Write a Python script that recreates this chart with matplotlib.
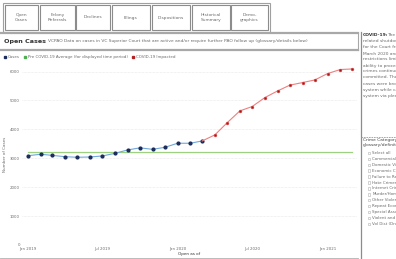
import numpy as np
import pandas as pd
import matplotlib
matplotlib.use("Agg")
import matplotlib.pyplot as plt
from matplotlib.patches import Rectangle

# data
months = pd.date_range("2019-01-01", periods=27, freq="MS")
cases = [3090, 3140, 3100, 3055, 3035, 3045, 3080, 3170, 3290, 3360, 3310, 3380,
         3520, 3520, 3600]
covid = [3810, 4230, 4640, 4790, 5100, 5330, 5530, 5620, 5710, 5930, 6070, 6090]
pre_covid_avg = 3230

tab_labels = ["Open\nCases", "Felony\nReferrals", "Declines", "Filings",
              "Dispositions", "Historical\nSummary", "Demo-\ngraphics"]
tab_edges = [(5, 38), (40, 75), (76, 110), (112, 150), (152, 190), (192, 230), (231, 268)]
tick_idx = [0, 6, 12, 18, 24]
covid_note = ["related shutdown of the Court", "for the Court from mid-",
              "March 2020 and continuing", "restrictions limited the Court's",
              "ability to process cases. As", "crimes continued to be",
              "committed. The number of", "cases were brought into the",
              "system while cases left the", "system via plea agreements"]
crime_cats = ["Select all", "Commercial Crimes", "Domestic Violence",
              "Economic Crimes", "Failure to Register", "Hate Crimes",
              "Internet Crimes", "Murder/Homicide", "Other Violent",
              "Repeat Economic", "Special Assault", "Violent and Serious",
              "Vol Dist (Drunk Driving)"]

grey = "#6b6b6b"
W, H = 396, 259
fig = plt.figure(figsize=(W / 100, H / 100), dpi=100)

# page layer in pixel coordinates
bg = fig.add_axes([0, 0, 1, 1])
bg.set_xlim(0, W)
bg.set_ylim(H, 0)
bg.axis("off")

bg.add_patch(Rectangle((3, 3), 267, 29, fill=False, ec="#a0a0a0", lw=0.8))
for (x0, x1), lab in zip(tab_edges, tab_labels):
    bg.add_patch(Rectangle((x0, 5), x1 - x0, 25, fill=False, ec="#8c8c8c", lw=0.8))
    bg.text((x0 + x1) / 2, 17.5, lab, ha="center", va="center", fontsize=3.2,
            color=grey, linespacing=1.3)

bg.plot([0, 358], [33, 33], color="#a8a8a8", lw=1.6)
bg.plot([0, 358], [49.5, 49.5], color="#a8a8a8", lw=1.6)
bg.plot([358, 358], [33, 49.5], color="#a8a8a8", lw=0.8)
bg.plot([360.5, 360.5], [32, H], color="#8c8c8c", lw=0.9)
bg.text(4, 41, "Open Cases", fontsize=4.6, fontweight="bold", color="#333333", va="center")
bg.text(48, 41, "VCPAO Data on cases in VC Superior Court that are active and/or require "
        "further PAO follow up (glossary/details below)", fontsize=3.2, color=grey,
        va="center")

# legend row
legend_items = [(5, "#1c2c5a", "Cases"),
                (25, "#4caf50", "Pre COVID-19 Average (for displayed time period)"),
                (133, "#b22222", "COVID-19 Impacted")]
for x, c, lab in legend_items:
    bg.plot([x], [57], marker="s", ms=1.8, color=c, ls="none")
    bg.text(x + 2.5, 57, lab, fontsize=2.9, color=grey, va="center")

# right side panel
bg.text(363, 35.5, "COVID-19:", fontsize=3.2, fontweight="bold", color="#333333", va="center")
bg.text(387, 35.5, "The COVID-19", fontsize=3.2, color=grey, va="center")
for i, line in enumerate(covid_note):
    bg.text(363, 41.5 + 6 * i, line, fontsize=3.2, color=grey, va="center")
bg.plot([361, W], [136.5, 136.5], color="#9a9a9a", lw=0.6, ls=(0, (2, 1)))
bg.text(363, 139.5, "Crime Category (see", fontsize=3.2, color="#444444", va="center")
bg.text(363, 145, "glossary/definitions)", fontsize=3.2, color="#444444", va="center")
for i, cat in enumerate(crime_cats):
    y = 153 + 5.9 * i
    bg.add_patch(Rectangle((367.5, y - 1.3), 2.6, 2.6, fill=False, ec="#b0b0b0", lw=0.4))
    bg.text(372.5, y, cat, fontsize=2.9, color=grey, va="center")

# chart
ax = fig.add_axes([22 / W, (H - 245) / H, (357 - 22) / W, (245 - 62.9) / H])
ax.set_facecolor("none")
ax.axhline(pre_covid_avg, xmin=0.018, xmax=0.985, color="#9bd17f", lw=0.9, zorder=1)
ax.plot(months[:len(cases)], cases, color="#6fa8dc", lw=0.8, marker="o", ms=2.0,
        mfc="#1c2c5a", mec="#1c2c5a", zorder=3)
ax.plot(months[len(cases) - 1:], [cases[-1]] + covid, color="#ef7f7f", lw=0.8,
        marker="o", ms=2.0, mfc="#a01818", mec="#e05050", mew=0.4, markevery=list(range(1, 13)),
        zorder=3)
ax.set_ylim(0, 6300)
ax.set_xlim(months[0] - pd.Timedelta(days=15), months[-1] + pd.Timedelta(days=13))
ax.set_yticks(range(0, 7000, 1000))
ax.set_xticks(months[tick_idx])
ax.set_xticklabels([d.strftime("%b %Y") for d in months[tick_idx]])
ax.grid(axis="y", color="#e4e4e4", lw=0.5, ls=(0, (1, 1)))
for s in ax.spines.values():
    s.set_visible(False)
ax.tick_params(length=0, labelsize=2.8, labelcolor=grey, pad=1.5)
ax.set_ylabel("Number of Cases", fontsize=3.0, color=grey, labelpad=2)
ax.set_xlabel("Open as of", fontsize=3.0, color="#333333", labelpad=1)
bg.plot([0, 358], [257.5, 257.5], color="#b0b0b0", lw=0.6)

fig.savefig("out.png", dpi=100)
